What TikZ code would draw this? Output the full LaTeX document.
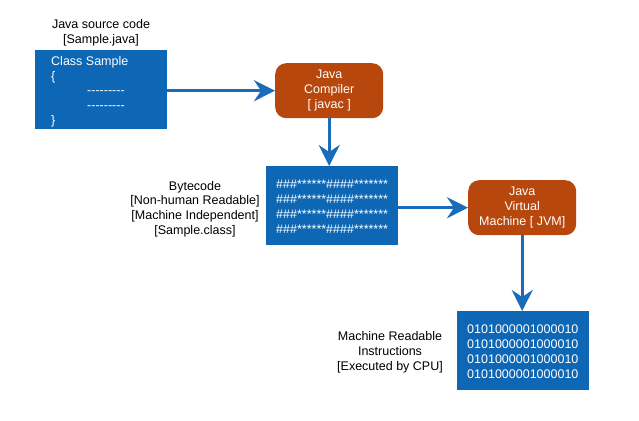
\documentclass[tikz,border=0pt]{standalone}
\usepackage{fontspec}
\setmainfont{Liberation Sans}[Ligatures=NoCommon]
\usetikzlibrary{arrows.meta}
\definecolor{boxblue}{RGB}{14,103,181}
\definecolor{boxbrown}{RGB}{183,71,13}
\definecolor{arrblue}{RGB}{24,108,186}
\newcommand{\dashrow}{-{}-{}-{}-{}-{}-{}-{}-{}-}
\tikzset{
  x=1pt,y=-1pt,
  every node/.style={font=\fontsize{12.5}{14.8}\selectfont, inner sep=0pt},
  codebox/.style={fill=boxblue, minimum width=132pt, minimum height=79pt, text=white, align=left},
  procbox/.style={fill=boxbrown, rounded corners=11pt, minimum width=108pt, minimum height=55pt, text=white, align=center},
  caption/.style={align=center, text=black},
  flow/.style={draw=arrblue, line width=3pt, -{Stealth[length=21pt,width=21pt,inset=7pt]}}
}
\begin{document}
\begin{tikzpicture}
\useasboundingbox (0,0) rectangle (639,420);
\node[codebox, anchor=north west] (src) at (35,50) {};
\node[anchor=north west, text=white, align=left] (srctxt) at (51,56) {Class Sample\\\{\\\hspace*{36pt}\dashrow\\\hspace*{36pt}\dashrow\\\}};
\node[caption] (srclab) at (101,33) {Java source code\\{[}Sample.java{]}};

\node[procbox, anchor=north west] (javac) at (275,63) {Java\\Compiler\\{[} javac {]}};

\node[codebox, anchor=north west] (bc) at (266,166) {};
\node[anchor=north west, text=white, align=left] (bctxt) at (276,180) {\#\#\#******\#\#\#\#*******\\\#\#\#******\#\#\#\#*******\\\#\#\#******\#\#\#\#*******\\\#\#\#******\#\#\#\#*******};
\node[caption] (bclab) at (195,209) {Bytecode\\{[}Non-human Readable{]}\\{[}Machine Independent{]}\\{[}Sample.class{]}};

\node[procbox, anchor=north west] (jvm) at (468,180) {Java\\Virtual\\Machine {[} JVM{]}};

\node[codebox, anchor=north west] (mc) at (457,311) {};
\node[anchor=north west, text=white, align=left] (mctxt) at (467,325) {0101000001000010\\0101000001000010\\0101000001000010\\0101000001000010};
\node[caption] (mclab) at (390,352) {Machine Readable\\Instructions\\{[}Executed by CPU{]}};

\draw[flow] (src.east |- javac.west) -- (javac.west);
\draw[flow] (javac.south) -- (javac.south |- bc.north);
\draw[flow] (bc.east |- jvm.west) -- (jvm.west);
\draw[flow] (jvm.south) -- (jvm.south |- mc.north);
\end{tikzpicture}
\end{document}
